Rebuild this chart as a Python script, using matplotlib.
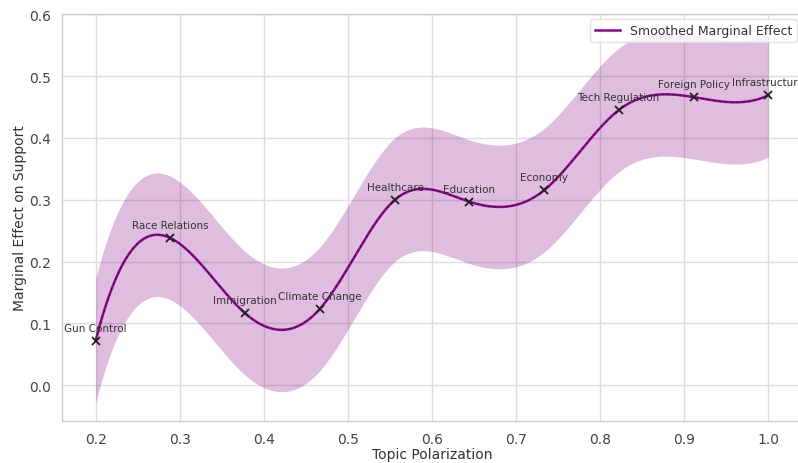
import numpy as np
import matplotlib
matplotlib.use("Agg")
import matplotlib.pyplot as plt

# ---- data ----
topics = ["Gun Control", "Race Relations", "Immigration", "Climate Change",
          "Healthcare", "Education", "Economy", "Tech Regulation",
          "Foreign Policy", "Infrastructure"]
polarization = [0.200, 0.289, 0.378, 0.467, 0.556, 0.644, 0.733, 0.822, 0.911, 1.000]
marginal_effect = [0.072, 0.238, 0.116, 0.124, 0.300, 0.297, 0.315, 0.445, 0.466, 0.469]
ci_half_width = [0.100, 0.100, 0.100, 0.100, 0.100, 0.100, 0.100, 0.100, 0.100, 0.100]
x_ticks = [0.2, 0.3, 0.4, 0.5, 0.6, 0.7, 0.8, 0.9, 1.0]
y_ticks = [0.0, 0.1, 0.2, 0.3, 0.4, 0.5, 0.6]


def spline_not_a_knot(x, y, xs):
    """Cubic spline (not-a-knot) through the points, evaluated at xs."""
    x = np.asarray(x, float)
    y = np.asarray(y, float)
    n = len(x)
    h = np.diff(x)
    A = np.zeros((n, n))
    b = np.zeros(n)
    for i in range(1, n - 1):
        A[i, i - 1] = h[i - 1]
        A[i, i] = 2 * (h[i - 1] + h[i])
        A[i, i + 1] = h[i]
        b[i] = 6 * ((y[i + 1] - y[i]) / h[i] - (y[i] - y[i - 1]) / h[i - 1])
    # not-a-knot conditions
    A[0, 0] = -1 / h[0]
    A[0, 1] = 1 / h[0] + 1 / h[1]
    A[0, 2] = -1 / h[1]
    A[-1, -3] = -1 / h[-2]
    A[-1, -2] = 1 / h[-2] + 1 / h[-1]
    A[-1, -1] = -1 / h[-1]
    M = np.linalg.solve(A, b)
    idx = np.clip(np.searchsorted(x, xs) - 1, 0, n - 2)
    x0, x1 = x[idx], x[idx + 1]
    hh = x1 - x0
    t0 = x1 - xs
    t1 = xs - x0
    return (M[idx] * t0 ** 3 / (6 * hh) + M[idx + 1] * t1 ** 3 / (6 * hh)
            + (y[idx] / hh - M[idx] * hh / 6) * t0
            + (y[idx + 1] / hh - M[idx + 1] * hh / 6) * t1)


xs = np.linspace(min(polarization), max(polarization), 400)
me = np.array(marginal_effect)
hw = np.array(ci_half_width)
smooth = spline_not_a_knot(polarization, me, xs)
upper = spline_not_a_knot(polarization, me + hw, xs)
lower = spline_not_a_knot(polarization, me - hw, xs)

plt.rcParams["font.family"] = ["DejaVu Sans"]
fig = plt.figure(figsize=(7.98, 4.64), dpi=100)
ax = fig.add_axes([62 / 798, 42 / 464, 740 / 798, 407 / 464])

ax.set_facecolor("white")
ax.grid(True, color="#dddddd", linewidth=1.0)
ax.set_axisbelow(True)
for s in ax.spines.values():
    s.set_color("#cccccc")
    s.set_linewidth(1.0)

ax.fill_between(xs, lower, upper, color="#800080", alpha=0.26, linewidth=0)
ax.plot(xs, smooth, color="#8a0a8a", linewidth=1.8, label="Smoothed Marginal Effect")
ax.plot(xs, smooth, color="#3a003a", linewidth=0.7, linestyle=(0, (3, 3)), alpha=0.7)
ax.plot(polarization, marginal_effect, linestyle="none", marker="x",
        color="#222222", markersize=6, markeredgewidth=1.3)

for name, xv, yv in zip(topics, polarization, marginal_effect):
    ax.text(xv, yv + 0.013, name, ha="center", va="bottom", fontsize=7.5,
            color="#333333")

ax.set_xticks(x_ticks)
ax.set_yticks(y_ticks)
ax.set_xticklabels([f"{v:.1f}" for v in x_ticks])
ax.set_yticklabels([f"{v:.1f}" for v in y_ticks])
ax.tick_params(axis="both", length=0, labelsize=10, labelcolor="#444444", pad=8)
ax.set_xlabel("Topic Polarization", fontsize=10, color="#333333", labelpad=0.5)
ax.set_ylabel("Marginal Effect on Support", fontsize=10, color="#333333", labelpad=1)

leg = ax.legend(loc="upper right", fontsize=9, frameon=True, borderaxespad=0.4)
leg.get_frame().set_edgecolor("#dddddd")
for t in leg.get_texts():
    t.set_color("#333333")

fig.savefig("out.png", dpi=100)
